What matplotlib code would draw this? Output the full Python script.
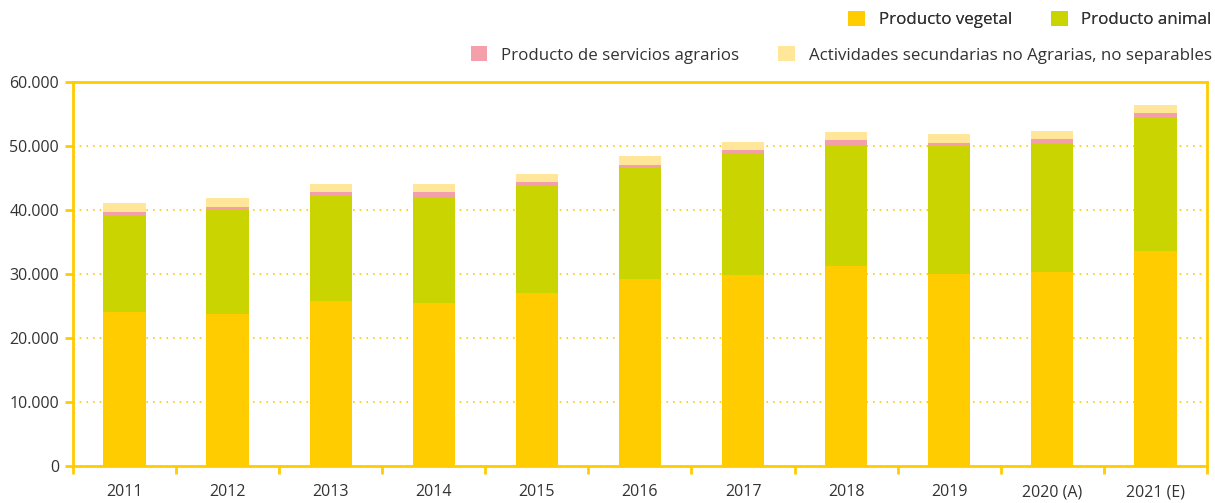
import numpy as np
import matplotlib.pyplot as plt
from matplotlib.patches import Patch
from matplotlib.ticker import FuncFormatter, FixedLocator

plt.rcParams['font.family'] = ['Open Sans', 'DejaVu Sans']

years = ['2011', '2012', '2013', '2014', '2015', '2016', '2017', '2018', '2019', '2020 (A)', '2021 (E)']
vegetal = [24100, 23750, 25800, 25500, 27000, 29200, 29800, 31250, 30000, 30300, 33600]
animal = [15100, 16350, 16500, 16500, 16900, 17500, 19100, 18950, 20000, 20200, 20900]
servicios = [500, 400, 500, 800, 500, 300, 500, 700, 500, 600, 700]
secundarias = [1400, 1400, 1300, 1300, 1200, 1400, 1200, 1300, 1400, 1200, 1200]

names = ['Producto vegetal', 'Producto animal', 'Producto de servicios agrarios',
         'Actividades secundarias no Agrarias, no separables']
colors = ['#FFCC00', '#C9D400', '#F4A0AA', '#FFE699']
gold = '#FFCC00'

fig = plt.figure(figsize=(12.15, 5.03), dpi=100)
ax = fig.add_axes([0.060, 0.0736, 0.9334, 0.7634])

x = np.arange(len(years))
bottom = np.zeros(len(years))
for vals, c in zip([vegetal, animal, servicios, secundarias], colors):
    ax.bar(x, vals, width=0.41, bottom=bottom, color=c, zorder=3)
    bottom += np.array(vals)

ax.set_xlim(-0.5, len(years) - 0.5)
ax.set_ylim(0, 60000)
ax.set_yticks(np.arange(0, 60001, 10000))
ax.yaxis.set_major_formatter(FuncFormatter(lambda v, p: f'{int(v):,}'.replace(',', '.')))
ax.set_xticks(x)
ax.set_xticklabels(years)
ax.xaxis.set_minor_locator(FixedLocator(np.arange(-0.5, len(years), 1)))

ax.tick_params(axis='x', which='major', length=0, pad=13, labelsize=11.5, labelcolor='#333333')
ax.tick_params(axis='x', which='minor', length=6, width=2, color=gold)
ax.tick_params(axis='y', length=6, width=2, color=gold, labelsize=11.5, labelcolor='#333333', pad=4)

for s in ax.spines.values():
    s.set_color(gold)
    s.set_linewidth(2)

ax.grid(axis='y', linestyle=(0, (1, 3)), color=gold, linewidth=1.2, zorder=0)

h = [Patch(facecolor=c, edgecolor='none') for c in colors]
kw = dict(loc='upper right', ncol=2, frameon=False, fontsize=12.2, handlelength=1.0,
          handleheight=1.0, columnspacing=2.3, handletextpad=0.8, labelcolor='#333333',
          borderpad=0.2, borderaxespad=0)
leg1 = fig.legend(h[:2], names[:2], bbox_to_anchor=(1.0, 0.985), **kw)
leg2 = fig.legend(h[2:], names[2:], bbox_to_anchor=(1.0, 0.915), **kw)
fig.add_artist(leg1)

fig.savefig('out.png', dpi=100)
